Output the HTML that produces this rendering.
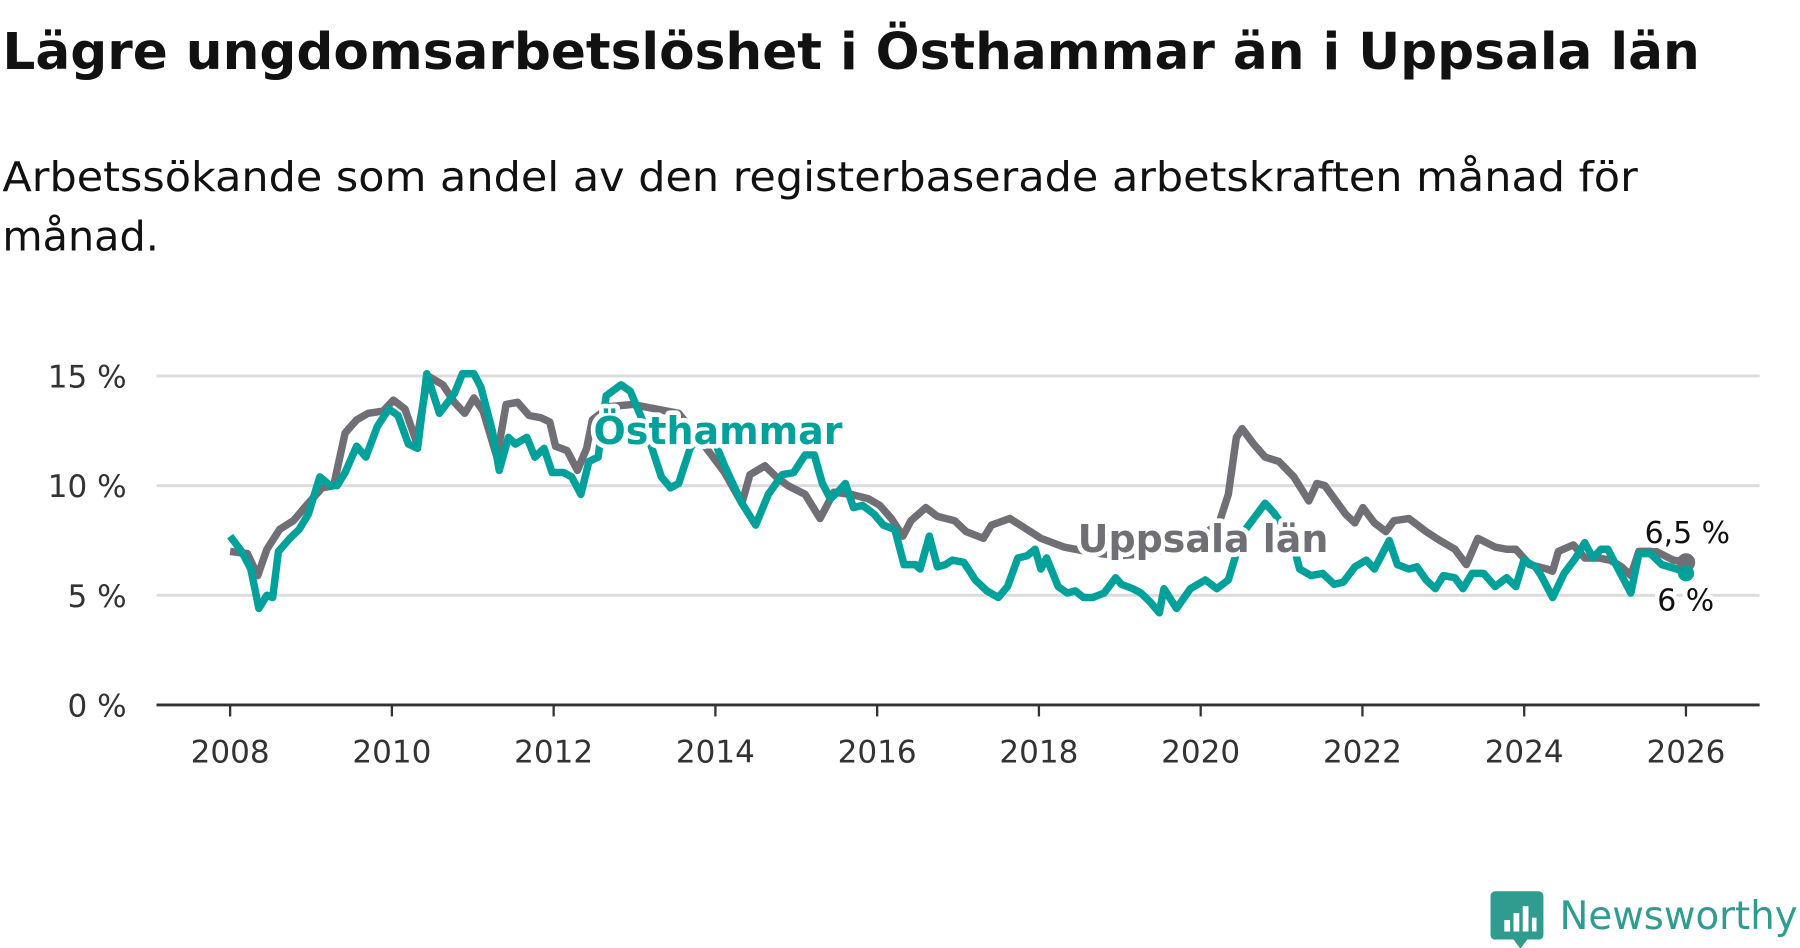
<!DOCTYPE html>
<html><head><meta charset="utf-8"><style>
html,body{margin:0;padding:0;background:#fff}
svg{display:block}
text{font-family:"DejaVu Sans","Liberation Sans",sans-serif}
</style></head><body>
<svg id="chart" width="1800" height="948" viewBox="0 0 1565 824.35" xmlns="http://www.w3.org/2000/svg">
<text x="2" y="60" font-size="44" font-weight="bold" fill="#111" textLength="1476" lengthAdjust="spacingAndGlyphs">Lägre ungdomsarbetslöshet i Östhammar än i Uppsala län</text>
<text x="2" y="166" font-size="36" fill="#111" textLength="1422" lengthAdjust="spacingAndGlyphs">Arbetssökande som andel av den registerbaserade arbetskraften månad för</text>
<text x="2" y="218" font-size="36" fill="#111" textLength="136" lengthAdjust="spacingAndGlyphs">månad.</text>
<g id="grid"></g>
<g id="series"></g>
<g id="labels"></g>
<g>
<path d="M1300 775 h38 a4 4 0 0 1 4 4 v34 a4 4 0 0 1 -4 4 h-10 l-6 8 l-6 -8 h-16 a4 4 0 0 1 -4 -4 v-34 a4 4 0 0 1 4 -4z" fill="#2f9c8f"/>
<rect x="1308" y="800" width="5" height="10" fill="#fff"/><rect x="1316" y="794" width="5" height="16" fill="#fff"/><rect x="1324" y="788" width="5" height="22" fill="#fff"/><rect x="1332" y="798" width="4" height="12" fill="#fff"/>
<text x="1356" y="808" font-size="34" fill="#2f9c8f" textLength="207" lengthAdjust="spacingAndGlyphs">Newsworthy</text>
</g>
</svg>
<script>
const years=[2008,2009,2010,2011,2012,2013,2014,2015,2016,2017,2018,2019,2020,2021,2022,2023,2024,2025,2026];
const yTicks=[0,5,10,15];
const grayX=[200,215,224,232,243,255,268,280,290,300,310,320,333,342,352,362,372,385,395,404,412,420,432,440,450,460,470,478,483,493,502,510,515,530,550,570,590,610,630,645,652,665,675,685,700,713,725,740,755,765,775,785,792,805,815,830,840,855,862,878,890,905,925,945,970,1000,1030,1050,1060,1068,1075,1080,1090,1100,1112,1125,1138,1145,1152,1170,1178,1185,1195,1205,1212,1225,1240,1252,1265,1275,1285,1300,1310,1318,1330,1345,1350,1355,1368,1378,1390,1400,1410,1418,1425,1440,1455,1466];
const grayV=[7.0,6.9,5.9,7.1,8.0,8.4,9.2,9.9,10.0,12.4,13.0,13.3,13.4,13.9,13.5,12.0,15.0,14.6,13.8,13.3,14.0,13.4,11.3,13.7,13.8,13.2,13.1,12.9,11.8,11.6,10.7,11.7,13.0,13.6,13.7,13.5,13.3,12.0,10.6,9.2,10.5,10.9,10.4,10.0,9.6,8.5,9.7,9.6,9.4,9.1,8.5,7.7,8.4,9.0,8.6,8.4,7.9,7.6,8.2,8.5,8.1,7.6,7.2,7.0,6.8,6.9,7.4,7.9,8.3,9.6,12.2,12.6,11.9,11.3,11.1,10.4,9.3,10.1,10.0,8.7,8.3,9.0,8.3,7.9,8.4,8.5,7.9,7.5,7.1,6.4,7.6,7.2,7.1,7.1,6.4,6.2,6.1,7.0,7.3,6.7,6.7,6.6,6.3,5.9,7.0,7.0,6.6,6.5];
const tealX=[200,210,218,225,232,237,242,252,260,268,278,287,293,300,310,318,328,338,346,355,363,371,382,395,402,412,418,428,434,442,448,458,465,473,480,490,497,505,512,520,527,540,548,560,575,583,590,600,615,630,645,657,668,680,690,700,708,715,722,730,735,742,750,760,768,778,786,796,800,808,815,822,828,838,848,858,868,876,885,893,900,905,910,920,928,935,942,950,960,970,975,985,992,1000,1008,1012,1023,1035,1048,1058,1068,1072,1080,1100,1107,1118,1125,1130,1140,1150,1160,1168,1178,1188,1195,1208,1215,1225,1232,1240,1248,1255,1265,1272,1280,1290,1300,1310,1318,1325,1335,1340,1350,1360,1370,1378,1385,1392,1398,1405,1412,1418,1425,1435,1445,1458,1466];
const tealV=[7.7,7.0,6.2,4.4,5.0,4.9,7.0,7.6,8.0,8.7,10.4,10.0,10.0,10.6,11.8,11.3,12.7,13.5,13.2,11.9,11.7,15.1,13.3,14.2,15.1,15.1,14.5,12.5,10.7,12.2,11.9,12.2,11.3,11.7,10.6,10.6,10.4,9.6,11.1,11.3,14.1,14.6,14.3,12.8,10.4,9.9,10.1,11.7,12.8,10.9,9.2,8.2,9.6,10.5,10.6,11.4,11.4,10.1,9.4,9.8,10.1,9.0,9.1,8.7,8.2,8.0,6.4,6.4,6.2,7.7,6.3,6.4,6.6,6.5,5.7,5.2,4.9,5.4,6.7,6.8,7.1,6.2,6.7,5.4,5.1,5.2,4.9,4.9,5.1,5.8,5.5,5.3,5.1,4.7,4.2,5.3,4.4,5.3,5.7,5.3,5.7,6.4,7.8,9.2,8.8,8.0,7.2,6.2,5.9,6.0,5.5,5.6,6.3,6.6,6.2,7.5,6.4,6.2,6.3,5.7,5.3,5.9,5.8,5.3,6.0,6.0,5.4,5.8,5.4,6.6,6.3,5.9,4.9,6.0,6.7,7.4,6.7,7.1,7.1,6.4,5.7,5.1,6.9,6.9,6.4,6.2,6.0];
const NS='http://www.w3.org/2000/svg';
const X0=136,X1=1530;
function xYear(y){return 200+(y-2008)*70.33;}
function yVal(v){return 613-v*19.07;}
function mk(tag,attrs,parent){const e=document.createElementNS(NS,tag);for(const k in attrs)e.setAttribute(k,attrs[k]);parent.appendChild(e);return e;}
const grid=document.getElementById('grid'),ser=document.getElementById('series'),lab=document.getElementById('labels');
yTicks.forEach(t=>{
  if(t>0){const l=mk('line',{x1:X0,x2:X1,y1:yVal(t),y2:yVal(t),stroke:'#dcdcdc','stroke-width':2.5},grid);
  
  }
  const tx=mk('text',{x:110,y:yVal(t)+10,'font-size':27,fill:'#333','text-anchor':'end'},grid);tx.textContent=t+' %';
  
  
});
const ax=mk('line',{x1:X0,x2:X1,y1:613,y2:613,stroke:'#333','stroke-width':2.5},grid);


years.forEach(y=>{
  if(y%2)return;
  const x=xYear(y);
  const tk=mk('line',{x1:x,x2:x,y1:613,y2:623,stroke:'#333','stroke-width':2},grid);
  
  
  const tx=mk('text',{x:x,y:663,'font-size':27,fill:'#333','text-anchor':'middle'},grid);tx.textContent=y;
  
  
});
function pts(xs,vs){return xs.map((x,i)=>x+','+yVal(vs[i]).toFixed(1)).join(' ');}
const gl=mk('polyline',{points:pts(grayX,grayV),fill:'none',stroke:'#706f75','stroke-width':6.5,'stroke-linejoin':'round'},ser);


const tl=mk('polyline',{points:pts(tealX,tealV),fill:'none',stroke:'#00a19a','stroke-width':6.5,'stroke-linejoin':'round'},ser);


const gd=mk('circle',{cx:grayX[grayX.length-1],cy:yVal(grayV[grayV.length-1]),r:8,fill:'#706f75'},ser);


const td=mk('circle',{cx:tealX[tealX.length-1],cy:yVal(tealV[tealV.length-1]),r:7,fill:'#00a19a'},ser);


function label(txt,x,y,size,color,bold,name){
  const h=mk('text',{x:x,y:y,'font-size':size,fill:'#fff',stroke:'#fff','stroke-width':8,'stroke-linejoin':'round','font-weight':bold?'bold':'normal'},lab);h.textContent=txt;
  
  
  const t=mk('text',{x:x,y:y,'font-size':size,fill:color,'font-weight':bold?'bold':'normal'},lab);t.textContent=txt;
  
  
}
label('Östhammar',516,386,33,'#00a19a',true,'osthammar-label');
label('Uppsala län',937,480,33,'#706f75',true,'uppsala-label');
label('6,5 %',1430,472,26,'#111',false,'uppsala-end-value');
label('6 %',1441,531,26,'#111',false,'osthammar-end-value');
</script>
</body></html>
